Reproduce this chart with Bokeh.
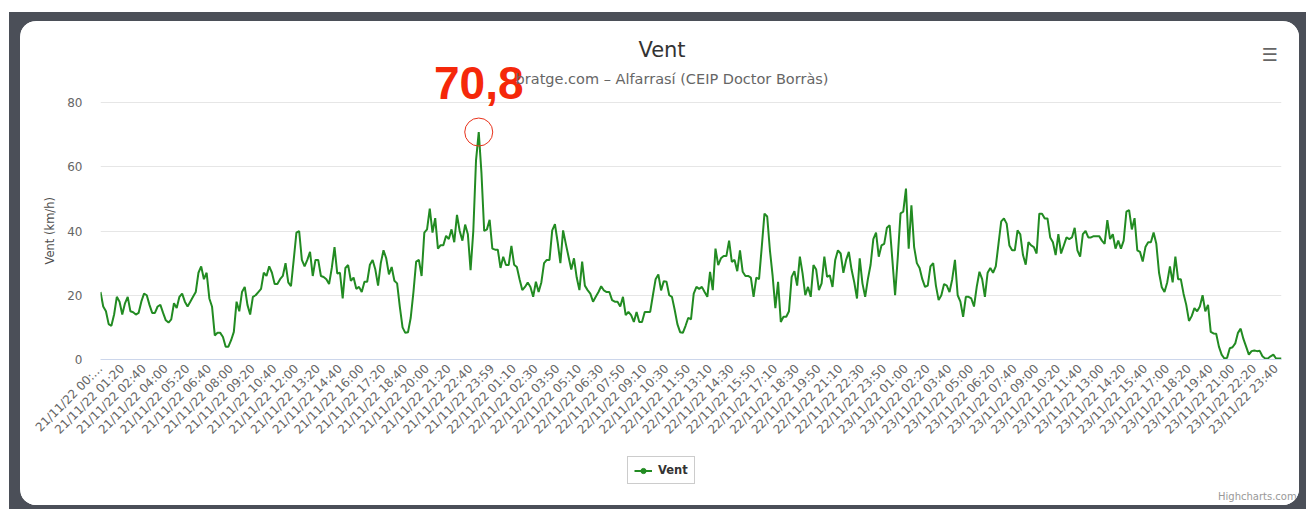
import math
import numpy as np
from bokeh.plotting import figure
from bokeh.models import (Range1d, FixedTicker, Label, Legend, LegendItem,
                          ColumnDataSource)
from bokeh.layouts import column
from bokeh.embed import file_html
from bokeh.resources import INLINE

# ---------------- data ----------------
chart_title = "Vent"
chart_subtitle = "bratge.com – Alfarrasí (CEIP Doctor Borràs)"
series_name = "Vent"
y_title = "Vent (km/h)"
credits = "Highcharts.com"
y_ticks = [0, 20, 40, 60, 80]
TICK_EVERY = 8  # one labelled category every 8 readings (10-min data)

tick_labels = [
    "21/11/22 00:…", "21/11/22 01:20", "21/11/22 02:40", "21/11/22 04:00",
    "21/11/22 05:20", "21/11/22 06:40", "21/11/22 08:00", "21/11/22 09:20",
    "21/11/22 10:40", "21/11/22 12:00", "21/11/22 13:20", "21/11/22 14:40",
    "21/11/22 16:00", "21/11/22 17:20", "21/11/22 18:40", "21/11/22 20:00",
    "21/11/22 21:20", "21/11/22 22:40", "21/11/22 23:59",
    "22/11/22 01:10", "22/11/22 02:30", "22/11/22 03:50", "22/11/22 05:10",
    "22/11/22 06:30", "22/11/22 07:50", "22/11/22 09:10", "22/11/22 10:30",
    "22/11/22 11:50", "22/11/22 13:10", "22/11/22 14:30", "22/11/22 15:50",
    "22/11/22 17:10", "22/11/22 18:30", "22/11/22 19:50", "22/11/22 21:10",
    "22/11/22 22:30", "22/11/22 23:50",
    "23/11/22 01:00", "23/11/22 02:20", "23/11/22 03:40", "23/11/22 05:00",
    "23/11/22 06:20", "23/11/22 07:40", "23/11/22 09:00", "23/11/22 10:20",
    "23/11/22 11:40", "23/11/22 13:00", "23/11/22 14:20", "23/11/22 15:40",
    "23/11/22 17:00", "23/11/22 18:20", "23/11/22 19:40", "23/11/22 21:00",
    "23/11/22 22:20", "23/11/22 23:40",
]

wind_day1 = [
    21, 16.5, 15, 11, 10.5, 14, 19.5, 18, 14, 17.5, 19.5, 15, 14.7, 14, 14.5, 18,
    20.5, 20, 17, 14.5, 14.5, 16.5, 17, 14.5, 12.2, 11.5, 12.5, 17.5, 16, 19.5, 20.5, 18,
    16.5, 18, 19.5, 21, 27, 29, 25, 27, 19, 16.4, 7.5, 8.3, 8.3, 7, 4, 4,
    6, 8.6, 18, 15, 21, 22.6, 17, 14, 19.5, 20, 21, 22, 27, 26, 29, 27,
    23.5, 23.5, 25, 26, 30, 24, 22.8, 31, 39.5, 40, 31, 29, 31, 33.5, 26, 31,
    31, 26, 25.7, 25, 23.5, 28.5, 35, 26.8, 27, 19, 28.5, 29.4, 24.5, 25.5, 22, 22.6,
    21, 24.2, 24.2, 29.5, 31, 28, 23, 30, 34, 31.5, 26.5, 28.8, 24.5, 23.7, 16.4, 10,
    8.3, 8.5, 13, 21, 30.5, 31, 26, 39.5, 40.5, 47, 39.5, 44, 34.5, 35.6, 35.6, 38.5,
    37.5, 40.5, 36.5, 45, 40, 37, 42, 39, 27.8, 40, 62, 70.8, 58, 40,
]
wind_day2 = [
    40.5, 43.5, 34.5, 34.2, 34.2, 28.5, 32, 29.4, 29.4, 35.4, 29.5, 28.8, 25, 21.6, 22.6, 24,
    22.6, 19.5, 24.2, 21, 24, 30, 31, 31, 40.2, 42.1, 36.5, 30, 40.2, 36, 32, 28,
    31.5, 25.5, 21.6, 30.5, 23, 21.6, 20.5, 18, 19.5, 21, 22.8, 21.5, 21, 21, 18.5, 18,
    18, 16.5, 19.5, 13.8, 14.8, 13.8, 11.7, 14.8, 11.7, 11.7, 14.8, 14.8, 14.8, 20, 25, 26.5,
    21.5, 24.4, 24.2, 20, 19.5, 15.5, 11, 8.5, 8.3, 10.5, 13, 12.5, 20.5, 22.6, 22, 22.6,
    21, 19.5, 27.3, 21.6, 34.5, 29.4, 31.5, 32.2, 32.2, 37, 30.4, 31, 27.5, 34, 27.3, 26,
    26, 25.5, 19.5, 25.5, 25, 35, 45.4, 44.5, 34, 26, 16, 24.2, 11.7, 13.3, 13.3, 15,
    25.7, 27.5, 23, 32, 26.8, 20, 22.6, 19.5, 29.4, 28, 21.6, 23.7, 32, 25.7, 26.2, 22.6,
    31, 34, 33, 27, 31, 33.5, 28, 24, 19, 31.5, 23.7, 19.5, 25, 29.5, 37.5, 39.5,
]
wind_day3 = [
    32, 35.5, 36, 41, 41.8, 31, 20, 32, 45.5, 46, 53.2, 34.5, 48, 35, 30, 28.5,
    25, 22.6, 23, 29, 30, 23, 18.5, 20, 23.5, 23, 21, 25, 31, 20, 18, 13.3,
    19.5, 19.5, 19, 16.5, 22.6, 27.3, 25, 19.5, 27, 28.5, 27, 29, 36, 43, 43.9, 42.3,
    35.5, 34, 34, 40.2, 39, 32.5, 29.5, 36.5, 35.5, 35, 33, 45.4, 45.4, 43.9, 43.9, 38,
    36.5, 32.5, 39, 33, 35.5, 38, 37.5, 38, 41, 34, 32, 39, 40, 38, 38, 38.4,
    38.4, 38.4, 37, 36, 43.4, 37.5, 39, 34.5, 37, 34.5, 37, 46, 46.5, 40.5, 44, 34,
    33.5, 30.5, 35, 36.5, 36.5, 39.5, 36, 27, 22.5, 21, 24, 29, 24, 32, 25, 25,
    20.5, 17, 12, 13.5, 16, 15, 16.5, 20, 15, 17, 8.6, 8.1, 8, 4, 1.5, 0.3,
    0.5, 3.5, 3.8, 5, 8.3, 9.6, 6.4, 4, 1.5, 2.6, 2.8, 2.6, 2.7, 1, 0.3, 0.3,
    1, 1.5, 0.3, 0.3, 0.3,
]
wind = wind_day1 + wind_day2 + wind_day3

# ---------------- style / layout constants ----------------
FONT = "DejaVu Sans"
LINE_COLOR = "#228b22"
TEXT_DARK = "#333333"
TEXT_MID = "#666666"
CARD_W = 1279
LEFT, RIGHT = 80, 18
PLOT_W, PLOT_H = 1181, 257      # area between the 0 and 80 grid lines
HEAD_H, BOTTOM_H, FOOT_H = 81, 96, 50
y_top = y_ticks[-1] * (PLOT_H + HEAD_H) / PLOT_H   # head room for the titles


def clean(fig):
    fig.outline_line_color = None
    fig.background_fill_color = "white"
    fig.border_fill_color = "white"


x = list(range(len(wind)))
src = ColumnDataSource(dict(x=x, y=wind))

# ---------------- main plot (titles live in the frame's head room) ----------------
p = figure(frame_width=PLOT_W, frame_height=PLOT_H + HEAD_H,
           min_border_left=LEFT, min_border_right=RIGHT,
           min_border_top=0, min_border_bottom=BOTTOM_H,
           x_range=Range1d(0, len(wind) - 1), y_range=Range1d(0, y_top),
           output_backend="svg", toolbar_location=None, tools="")
clean(p)

xa = p.xaxis[0]
tick_pos = [i * TICK_EVERY for i in range(len(tick_labels))]
xa.ticker = FixedTicker(ticks=tick_pos)
xa.major_label_overrides = {pos: lab for pos, lab in zip(tick_pos, tick_labels)}
xa.major_label_orientation = math.pi / 4
xa.axis_line_color = "#ccd6eb"
xa.major_tick_out = 0
xa.major_tick_in = 0
xa.minor_tick_out = 0
xa.minor_tick_in = 0
xa.major_label_standoff = 7
xa.major_label_text_font = FONT
xa.major_label_text_font_size = "12px"
xa.major_label_text_color = TEXT_MID
p.xgrid.visible = False

ya = p.yaxis[0]
ya.ticker = FixedTicker(ticks=y_ticks)
ya.axis_line_color = None
ya.major_tick_out = 0
ya.major_tick_in = 0
ya.minor_tick_out = 0
ya.minor_tick_in = 0
ya.major_label_standoff = 18
ya.major_label_text_font = FONT
ya.major_label_text_font_size = "12px"
ya.major_label_text_color = TEXT_MID
# trailing em spaces push the visible title down to the middle of the 0-80 span
ya.axis_label = y_title + "\u2003" * 7
ya.axis_label_standoff = 7
ya.axis_label_text_font = FONT
ya.axis_label_text_font_size = "11.5px"
ya.axis_label_text_font_style = "normal"
ya.axis_label_text_color = "#4d4d4d"
p.ygrid.grid_line_color = "#e6e6e6"
p.ygrid.grid_line_width = 1

p.line("x", "y", source=src, line_color=LINE_COLOR, line_width=2)

peak_i = int(np.argmax(wind))
peak_v = wind[peak_i]
p.scatter(x=[peak_i], y=[peak_v], size=28, fill_color=None,
          line_color="#e8311a", line_width=1)
p.add_layout(Label(x=peak_i, y=276.5, x_units="data", y_units="screen",
                   text=f"{peak_v:.1f}".replace(".", ","),
                   text_align="center", text_baseline="alphabetic",
                   text_font="Liberation Sans", text_font_size="46px",
                   text_font_style="bold", text_color="#f5280a",
                   background_fill_color="white", background_fill_alpha=1))

p.add_layout(Label(x=561.5, y=309.5, x_units="screen", y_units="screen",
                   text=chart_title, text_align="center", text_baseline="alphabetic",
                   text_font=FONT, text_font_size="21px", text_color=TEXT_DARK))
p.add_layout(Label(x=728, y=280.7, x_units="screen", y_units="screen",
                   text=chart_subtitle, text_align="right", text_baseline="alphabetic",
                   text_font=FONT, text_font_size="14.5px", text_color=TEXT_MID))
p.add_layout(Label(x=1169, y=305, x_units="screen", y_units="screen",
                   text="☰", text_align="center", text_baseline="middle",
                   text_font=FONT, text_font_size="18px", text_font_style="bold",
                   text_color=TEXT_MID))

# ---------------- footer (legend, credits) ----------------
foot = figure(frame_width=CARD_W, frame_height=FOOT_H,
              min_border_left=0, min_border_right=0,
              min_border_top=0, min_border_bottom=0,
              x_range=Range1d(0, CARD_W), y_range=Range1d(0, FOOT_H),
              x_axis_type=None, y_axis_type=None,
              output_backend="svg", toolbar_location=None, tools="")
clean(foot)
foot.grid.visible = False

# hidden copies of the series: they only provide the legend swatch
leg_line = foot.line("x", "y", source=src, line_color=LINE_COLOR, line_width=2, visible=False)
leg_dot = foot.scatter("x", "y", source=src, size=8, color=LINE_COLOR, visible=False)
legend = Legend(items=[LegendItem(label=series_name, renderers=[leg_line, leg_dot])],
                location=(607, 21), orientation="horizontal",
                border_line_color="#999999", border_line_width=1,
                background_fill_color="white", background_fill_alpha=1,
                inactive_fill_alpha=0,
                label_text_font=FONT, label_text_font_size="11.5px",
                label_text_font_style="bold", label_text_color=TEXT_DARK,
                padding=6, margin=0, glyph_width=18, glyph_height=13,
                label_height=13, label_width=10, label_standoff=6)
foot.add_layout(legend)

# credits line, placed with the same legend machinery (no swatch)
cred_r = foot.scatter("x", "y", source=src, size=0, alpha=0, visible=False)
cred = Legend(items=[LegendItem(label=credits, renderers=[cred_r])],
              location=(1198, 3), orientation="horizontal",
              border_line_color=None, background_fill_alpha=0, inactive_fill_alpha=0,
              label_text_font=FONT, label_text_font_size="10px",
              label_text_color="#999999", padding=0, margin=0,
              glyph_width=0, glyph_height=10, label_height=12, label_width=10,
              label_standoff=0)
foot.add_layout(cred)

card = column(p, foot, spacing=0,
              styles={"background-color": "white", "border-radius": "16px",
                      "overflow": "hidden"})
page = column(card, margin=(12, 0, 0, 9),
              styles={"background-color": "#4b4f58", "padding": "9px 7px 4px 11px"})

open("out.html", "w").write(file_html(page, INLINE))
